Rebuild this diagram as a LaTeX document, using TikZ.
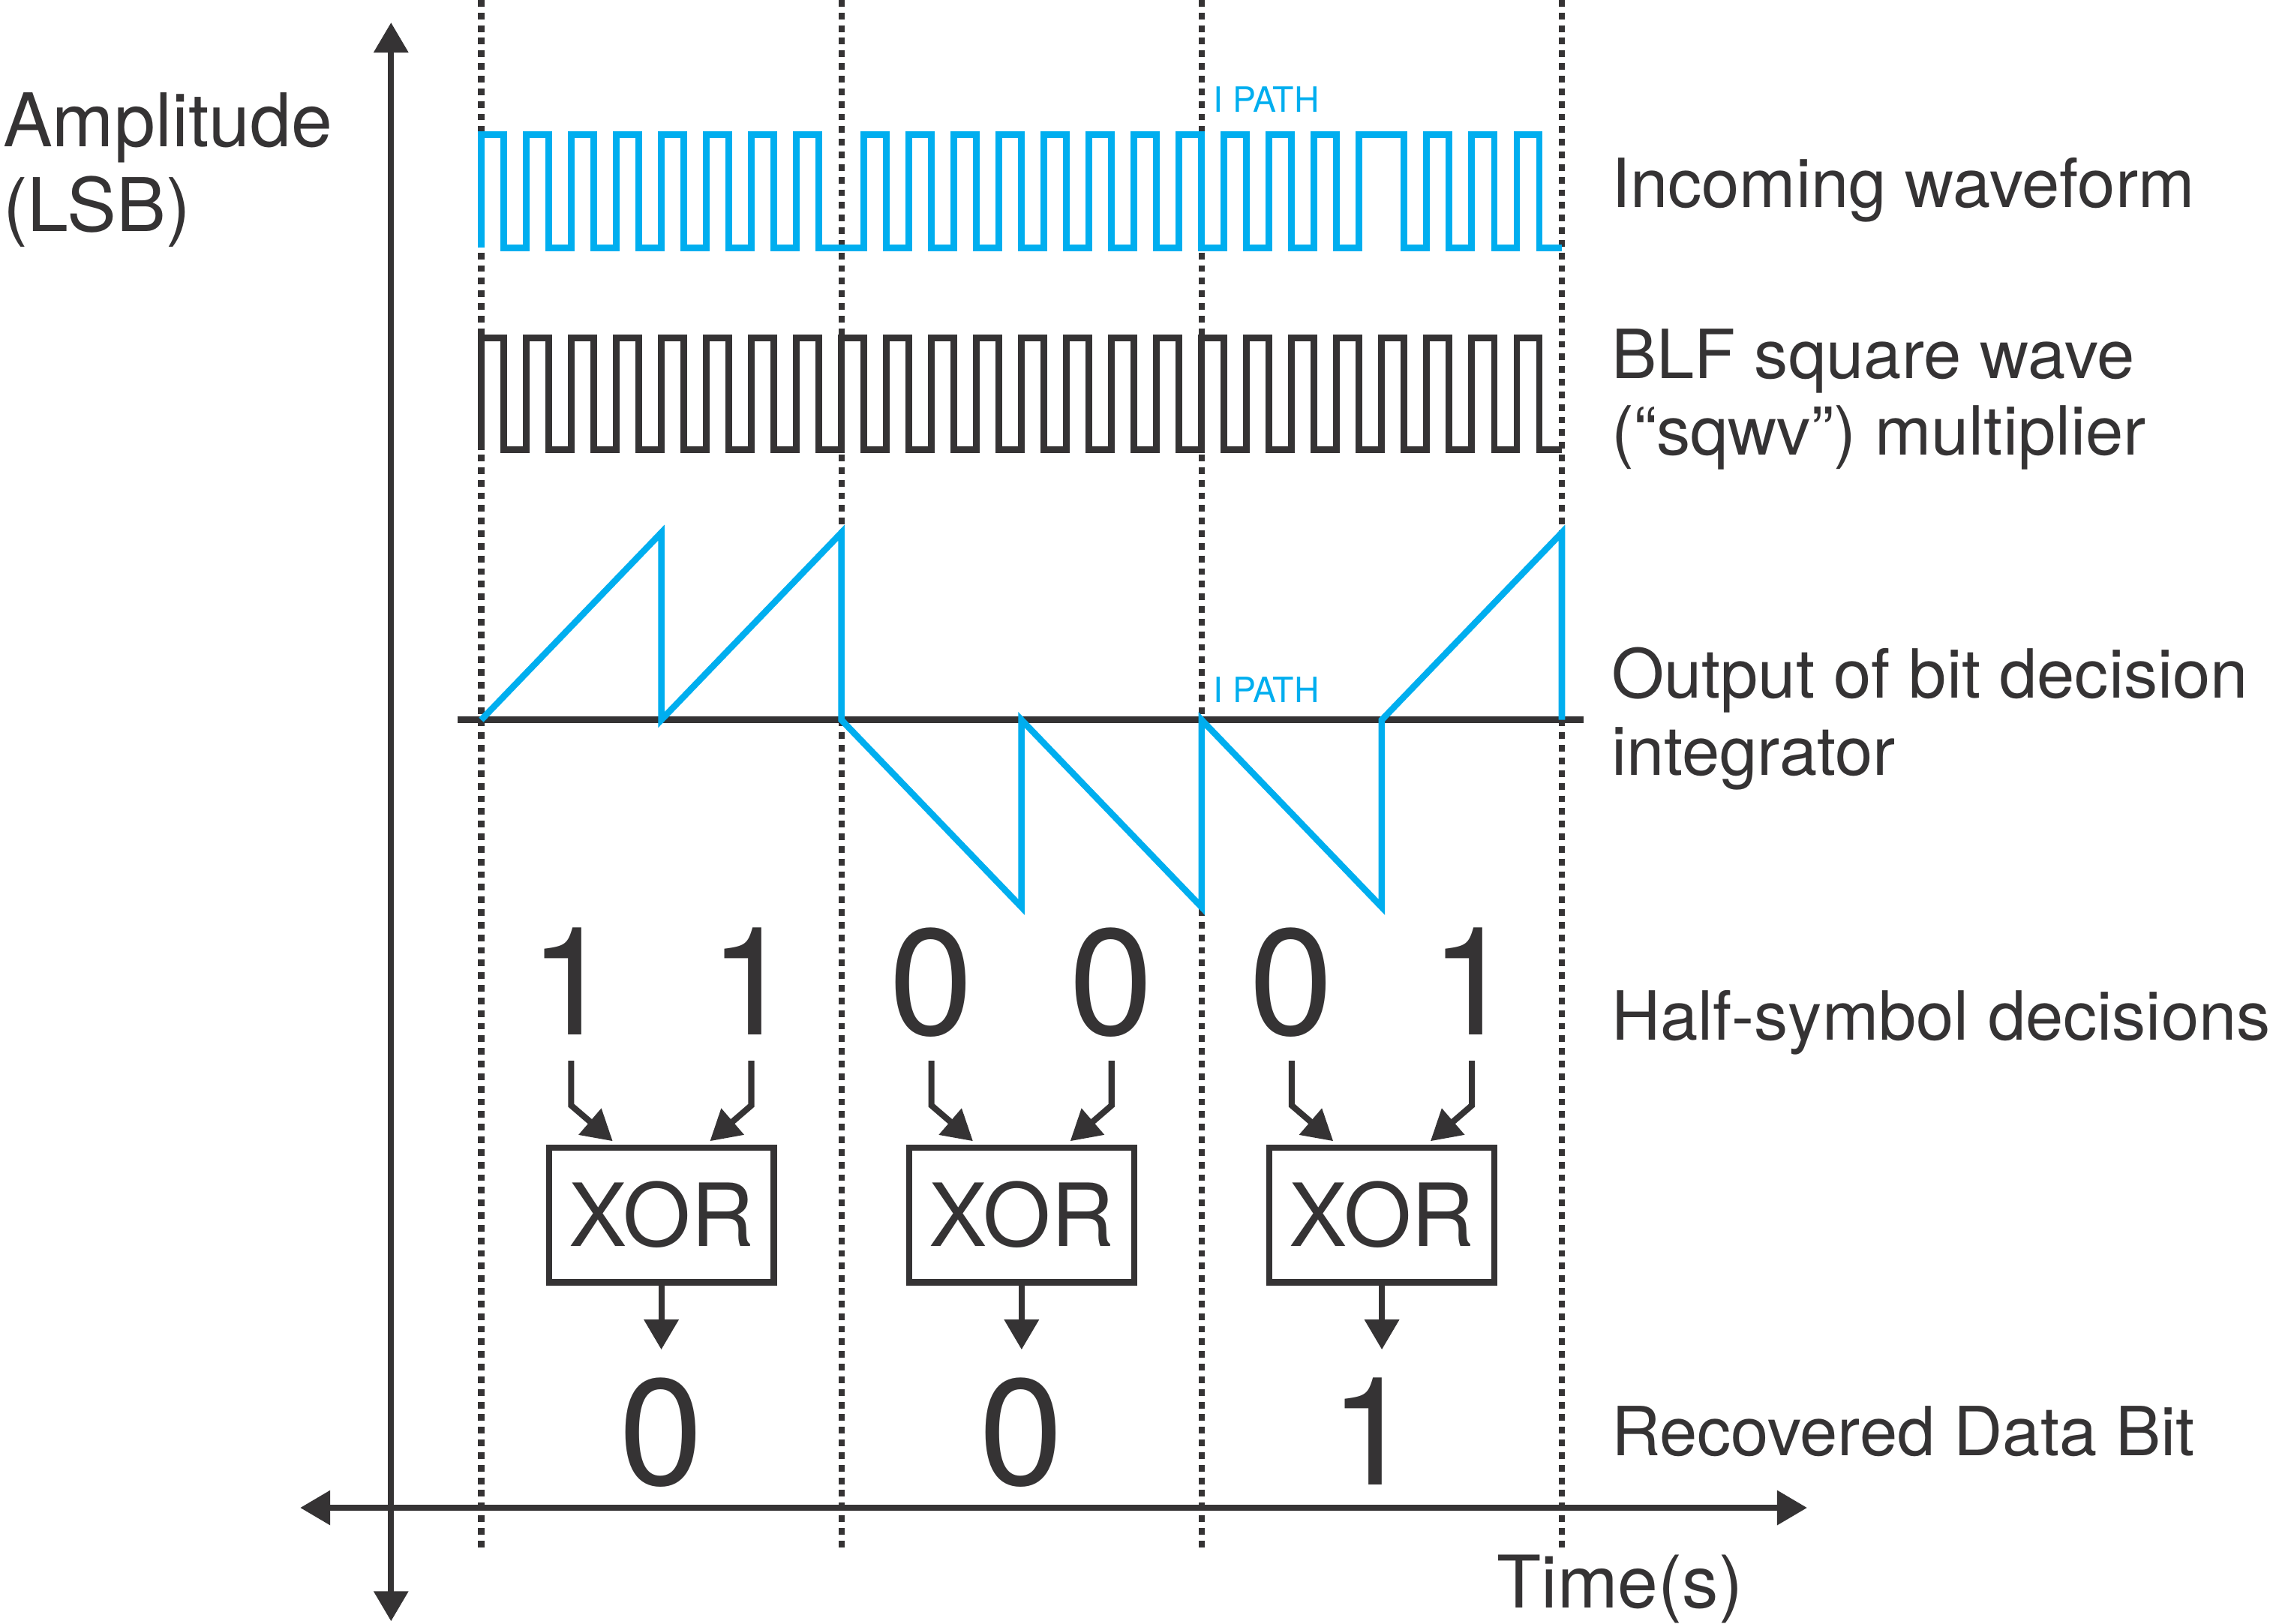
\documentclass[tikz,border=0pt]{standalone}
\usepackage{fontspec}
\setmainfont{TeX Gyre Heros}
\usetikzlibrary{arrows.meta}

\definecolor{ink}{RGB}{53,51,52}
\definecolor{ipath}{RGB}{0,174,239}

\begin{document}
\begin{tikzpicture}[x=1pt,y=-1pt,color=ink,line width=4.2pt,
  >={Triangle[length=20.7pt,width=23pt]},
  wave/.style={line width=4.6pt},
  grid/.style={line width=4.3pt,dash pattern=on 4.6pt off 4.1pt},
  side/.style={anchor=base west,inner sep=0pt,font=\fontsize{46.7}{53}\selectfont},
  axislabel/.style={anchor=base west,inner sep=0pt,font=\fontsize{51}{58}\selectfont},
  pathtag/.style={anchor=base west,inner sep=0pt,text=ipath,font=\fontsize{24}{28}\selectfont},
  digit/.style={anchor=base,inner sep=0pt,text depth=0pt,font=\fontsize{104}{110}\selectfont},
  xorbox/.style={draw,minimum width=155pt,minimum height=93pt,inner sep=0pt,font=\fontsize{60}{66}\selectfont}]
  \useasboundingbox (0,0) rectangle (1568,1118.4);
  % symbol boundaries
  \foreach \b in {331.5,579.7,827.8,1076}
    \draw[grid] (\b,0) -- (\b,1070);
  % axes
  \draw[<->] (269.4,1117) -- (269.4,15.5);
  \draw[<->] (206.8,1038.8) -- (1245,1038.8);
  \node[axislabel] (amp) at (0,101) {Amplitude};
  \node[axislabel] (lsb) at (0,159.4) {(LSB)};
  \node[axislabel,font=\fontsize{50}{56}\selectfont] (time) at (1029.3,1107.7) {Time(s)};
  % incoming waveform and BLF square wave
  \draw[wave,ipath] (331.5,170.6)
    \foreach \s [count=\h from 0] in {1,1,-1,-1,-1,1} {
      \foreach \p in {0,...,3} {
        -- ({331.5+(4*\h+\p)*31.02},{131.8-38.8*(\s)})
        -- ({331.5+(4*\h+\p+0.5)*31.02},{131.8-38.8*(\s)})
        -- ({331.5+(4*\h+\p+0.5)*31.02},{131.8+38.8*(\s)})
        -- ({331.5+(4*\h+\p+1)*31.02},{131.8+38.8*(\s)})
      }
    };
  \draw[wave] (331.5,310)
    \foreach \p in {0,...,23} {
      -- ({331.5+\p*31.02},232.6) -- ({331.5+(\p+0.5)*31.02},232.6)
      -- ({331.5+(\p+0.5)*31.02},310) -- ({331.5+(\p+1)*31.02},310)
    };
  \node[pathtag] (tagtop) at (833.7,77.5) {I PATH};
  % integrator output
  \draw[line width=4.8pt] (315,496) -- (1091,496);
  \draw[wave,ipath,line width=4.4pt] (331.5,496)
    \foreach \s [count=\h] in {1,1,-1,-1,-1,1} {
      -- ({331.5+\h*124.08},{496-129*(\s)}) -- ({331.5+\h*124.08},496)
    };
  \node[pathtag] (tagmid) at (833.7,484) {I PATH};
  % half-symbol decisions and XOR
  \foreach \d [count=\i from 0] in {1,1,0,0,0,1}
    \node[digit] (d\i) at ({393.5+124.1*\i},713) {\d};
  \foreach \b/\dx [count=\k from 0] in {0/0,0/0,1/-7} {
    \node[xorbox] (x\k) at ({455.6+248.2*\k},837) {XOR};
    \node[digit] (r\k) at ({455.6+248.2*\k+\dx},1023) {\b};
    \draw[->,shorten >=17.3pt] (x\k.south) -- (x\k.south |- r\k.north);
  }
  \foreach \k in {0,1,2} {
    \pgfmathtruncatemacro\l{2*\k}
    \pgfmathtruncatemacro\r{2*\k+1}
    \draw[->] ([yshift=-15.7pt]d\l.south) -- ++(0,30.8) -- ([shift={(-33.5,-2.2)}]x\k.north);
    \draw[->] ([yshift=-15.7pt]d\r.south) -- ++(0,30.8) -- ([shift={(33.5,-2.2)}]x\k.north);
  }
  % right-hand labels
  \node[side] (incoming) at (1108,142.9) {Incoming waveform};
  \node[side] (blf) at (1108,260.7) {BLF square wave};
  \node[side] (sqwv) at (1108,313.5) {(“sqwv”) multiplier};
  \node[side] (intout) at (1108,481) {Output of bit decision};
  \node[side] (integ) at (1108,534) {integrator};
  \node[side] (halfsym) at (1108,716.5) {Half-symbol decisions};
  \node[side] (recov) at (1108,1002.6) {Recovered Data Bit};
\end{tikzpicture}
\end{document}
